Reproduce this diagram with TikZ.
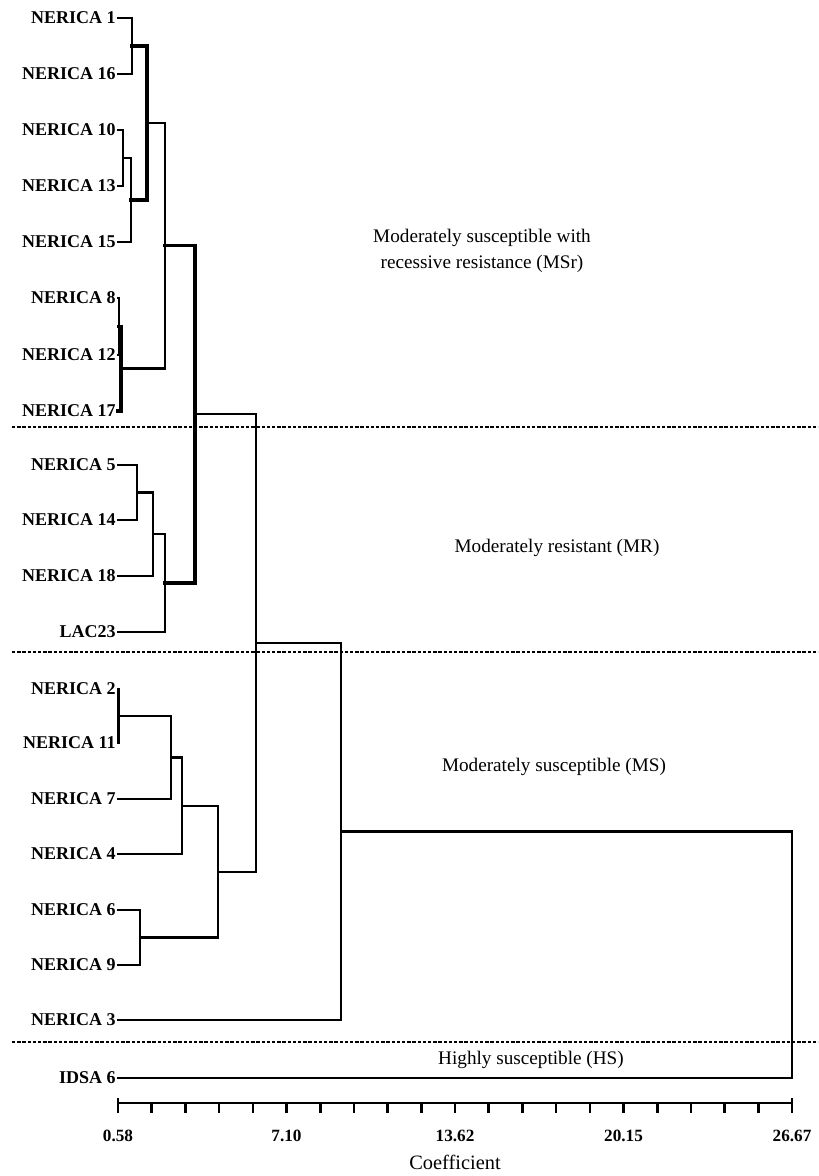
\documentclass[tikz,border=0pt]{standalone}
\usepackage{fontspec}
\setmainfont{Liberation Serif}
\usetikzlibrary{positioning}
\tikzset{
  dg leaf/.style={
    anchor=east, inner xsep=1pt, inner ysep=0pt,
    font=\fontsize{9}{10}\selectfont\bfseries
  },
  dg branch/.style={
    draw=black, line width=1.3pt, line cap=rect
  },
  dg heavy/.style={
    dg branch, line width=1.8pt
  },
  dg split/.style={
    draw=black, line width=1.1pt, dash pattern=on 1.7pt off 0.9pt
  },
  dg zone/.style={
    font=\fontsize{9.6}{13}\selectfont, align=center
  },
  dg tick/.style={
    font=\fontsize{8.6}{10}\selectfont\bfseries
  }
}

\begin{document}
\begin{tikzpicture}[x=0.5pt, y=-0.5pt]
  \useasboundingbox (0,0) rectangle (818,1176);

  % group borders
  \draw [dg split] (12,427) -- (818,427);
  \draw [dg split] (12,652) -- (818,652);
  \draw [dg split] (12,1042) -- (818,1042);

  % leaves
  \node (n1)   [dg leaf] at (118,18)   {NERICA 1};
  \node (n16)  [dg leaf] at (118,74)   {NERICA 16};
  \node (n10)  [dg leaf] at (118,130)  {NERICA 10};
  \node (n13)  [dg leaf] at (118,186)  {NERICA 13};
  \node (n15)  [dg leaf] at (118,242)  {NERICA 15};
  \node (n8)   [dg leaf] at (118,298)  {NERICA 8};
  \node (n12)  [dg leaf] at (118,355)  {NERICA 12};
  \node (n17)  [dg leaf] at (118,411)  {NERICA 17};
  \node (n5)   [dg leaf] at (118,465)  {NERICA 5};
  \node (n14)  [dg leaf] at (118,520)  {NERICA 14};
  \node (n18)  [dg leaf] at (118,576)  {NERICA 18};
  \node (lac)  [dg leaf] at (118,632)  {LAC23};
  \node (n2)   [dg leaf] at (118,689)  {NERICA 2};
  \node (n11)  [dg leaf] at (118,743)  {NERICA 11};
  \node (n7)   [dg leaf] at (118,799)  {NERICA 7};
  \node (n4)   [dg leaf] at (118,854)  {NERICA 4};
  \node (n6)   [dg leaf] at (118,910)  {NERICA 6};
  \node (n9)   [dg leaf] at (118,965)  {NERICA 9};
  \node (n3)   [dg leaf] at (118,1020) {NERICA 3};
  \node (idsa) [dg leaf] at (118,1078) {IDSA 6};

  % merge points
  \coordinate (j1)   at (132,46);
  \coordinate (j10)  at (123,158);
  \coordinate (j15)  at (131,200);
  \coordinate (jA)   at (147,123);
  \coordinate (j8)   at (119,326.5);
  \coordinate (j17)  at (121,368.5);
  \coordinate (jB)   at (165,245.5);
  \coordinate (j5)   at (137,492.5);
  \coordinate (j18)  at (153,534);
  \coordinate (jC)   at (165,583);
  \coordinate (jD)   at (195,414);
  \coordinate (j2)   at (118.5,716);
  \coordinate (j7)   at (171,757.5);
  \coordinate (j4)   at (182,806);
  \coordinate (j6)   at (140,937.5);
  \coordinate (jE)   at (218,872);
  \coordinate (jF)   at (256,643);
  \coordinate (jG)   at (341,831.5);
  \coordinate (jH)   at (792,955);

  % tree
  \draw [dg branch] (n1.east) -| (j1) |- (n16.east);
  \draw [dg branch] (n10.east) -| (j10) |- (n13.east);
  \draw [dg branch] (j10) -| (j15) |- (n15.east);
  \draw [dg heavy] (j1) -| (jA) |- (j15);
  \draw [dg branch] (n8.east) -| (j8) |- (n12.east);
  \draw [dg heavy] (j8) -| (j17) |- (n17.east);
  \draw [dg branch] (jA) -| (jB) |- (j17);
  \draw [dg branch] (n5.east) -| (j5) |- (n14.east);
  \draw [dg branch] (j5) -| (j18) |- (n18.east);
  \draw [dg branch] (j18) -| (jC) |- (lac.east);
  \draw [dg heavy] (jB) -| (jD) |- (jC);
  \draw [dg branch] (n2.east) -| (j2) |- (n11.east);
  \draw [dg branch] (j2) -| (j7) |- (n7.east);
  \draw [dg branch] (j7) -| (j4) |- (n4.east);
  \draw [dg branch] (n6.east) -| (j6) |- (n9.east);
  \draw [dg branch] (j4) -| (jE) |- (j6);
  \draw [dg branch] (jD) -| (jF) |- (jE);
  \draw [dg branch] (jF) -| (jG) |- (n3.east);
  \draw [dg branch] (jG) -| (jH) |- (idsa.east);

  % groups
  \node (msr) [dg zone] at (482,251) {Moderately susceptible with\\recessive resistance (MSr)};
  \node (mr)  [dg zone] at (557,548) {Moderately resistant (MR)};
  \node (ms)  [dg zone] at (554,767) {Moderately susceptible (MS)};
  \node (hs)  [dg zone] at (531,1060) {Highly susceptible (HS)};

  % scale
  \draw [dg branch] (118,1103) -- (792,1103);
  \foreach \k in {0,...,20}
    \draw [dg branch] (118+33.7*\k,1103) -- ++(0,9);
  \draw [dg branch] (118,1099) -- (118,1103);
  \draw [dg branch] (792,1099) -- (792,1103);
  \node (t1) [dg tick] at (118,1136)   {0.58};
  \node (t2) [dg tick] at (286.5,1136) {7.10};
  \node (t3) [dg tick] at (455,1136)   {13.62};
  \node (t4) [dg tick] at (623.5,1136) {20.15};
  \node (t5) [dg tick] at (792,1136)   {26.67};
  \node (coef) [dg zone, font=\fontsize{10.2}{12}\selectfont] at (455,1162) {Coefficient};
\end{tikzpicture}
\end{document}
